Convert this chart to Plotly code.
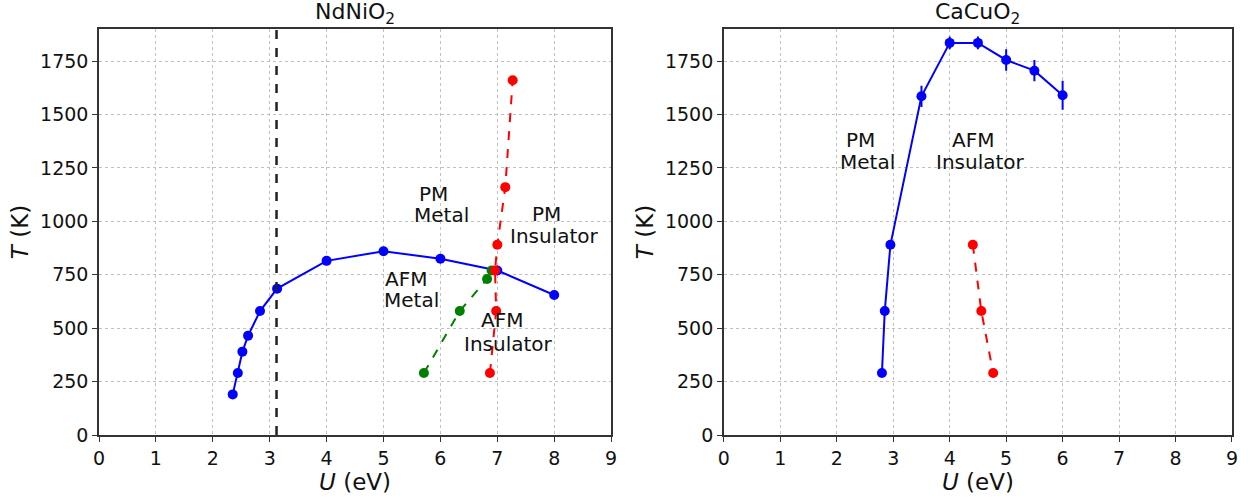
import plotly.graph_objects as go
from plotly.subplots import make_subplots

# ---- NdNiO2 (left panel) ----
nd_blue_U = [2.35, 2.44, 2.52, 2.62, 2.83, 3.13, 4.0, 5.0, 6.0, 7.0, 8.0]
nd_blue_T = [190, 290, 390, 465, 580, 685, 815, 860, 825, 770, 655]
nd_green_U = [5.71, 6.34, 6.82, 6.9]
nd_green_T = [290, 580, 730, 770]
nd_red_U = [6.87, 6.98, 6.96, 7.0, 7.14, 7.27]
nd_red_T = [290, 580, 770, 890, 1160, 1660]
nd_vline_U = 3.12

# ---- CaCuO2 (right panel) ----
ca_blue_U = [2.8, 2.85, 2.95, 3.5, 4.0, 4.5, 5.0, 5.5, 6.0]
ca_blue_T = [290, 580, 890, 1585, 1835, 1835, 1755, 1705, 1590]
ca_blue_err = [0, 0, 0, 50, 30, 30, 50, 50, 68]
ca_red_U = [4.41, 4.56, 4.77]
ca_red_T = [890, 580, 290]

# region labels: (text, U, T)
nd_labels = [("PM", 5.88, 1128), ("Metal", 6.02, 1030),
             ("PM", 7.86, 1035), ("Insulator", 8.0, 930),
             ("AFM", 5.39, 728), ("Metal", 5.5, 632),
             ("AFM", 7.08, 536), ("Insulator", 7.2, 427)]
ca_labels = [("PM", 2.42, 1382), ("Metal", 2.54, 1278),
             ("AFM", 4.42, 1382), ("Insulator", 4.54, 1278)]

titles = ["NdNiO<sub>2</sub>", "CaCuO<sub>2</sub>"]
x_ticks = list(range(0, 10))
y_ticks = [0, 250, 500, 750, 1000, 1250, 1500, 1750]

FONT = "DejaVu Sans"
TXT = "#111111"

fig = make_subplots(rows=1, cols=2, horizontal_spacing=0.0985)

mk = dict(size=10)
fig.add_trace(go.Scatter(x=nd_blue_U, y=nd_blue_T, mode="lines+markers",
                         line=dict(color="#0000ff", width=2), marker=dict(color="#0000ff", **mk)), 1, 1)
fig.add_trace(go.Scatter(x=nd_green_U, y=nd_green_T, mode="lines+markers",
                         line=dict(color="#008000", width=2, dash="dash"), marker=dict(color="#008000", **mk)), 1, 1)
fig.add_trace(go.Scatter(x=nd_red_U, y=nd_red_T, mode="lines+markers",
                         line=dict(color="#ff0000", width=2, dash="dash"), marker=dict(color="#ff0000", **mk)), 1, 1)

fig.add_trace(go.Scatter(x=ca_blue_U, y=ca_blue_T, mode="lines+markers",
                         line=dict(color="#0000ff", width=2), marker=dict(color="#0000ff", **mk),
                         error_y=dict(type="data", array=ca_blue_err, color="#0000ff", thickness=2, width=0)), 1, 2)
fig.add_trace(go.Scatter(x=ca_red_U, y=ca_red_T, mode="lines+markers",
                         line=dict(color="#ff0000", width=2, dash="dash"), marker=dict(color="#ff0000", **mk)), 1, 2)

fig.add_shape(type="line", xref="x", yref="y domain", x0=nd_vline_U, x1=nd_vline_U, y0=0, y1=1,
              line=dict(color="#222222", width=2.5, dash="dash"))

for txt, u, t in nd_labels:
    fig.add_annotation(x=u, y=t, xref="x", yref="y", text=txt, showarrow=False,
                       font=dict(size=20, color=TXT, family=FONT))
for txt, u, t in ca_labels:
    fig.add_annotation(x=u, y=t, xref="x2", yref="y2", text=txt, showarrow=False,
                       font=dict(size=20, color=TXT, family=FONT))

for i, ttl in enumerate(titles):
    xr = "x domain" if i == 0 else "x2 domain"
    fig.add_annotation(x=0.5, y=1.0, xref=xr, yref="paper", yanchor="bottom", yshift=-1,
                       text=ttl, showarrow=False, font=dict(size=22, color=TXT, family=FONT))

axis_common = dict(showline=True, linecolor="#333333", linewidth=1.5, mirror=True,
                   ticks="outside", ticklen=5, tickcolor="#333333",
                   showgrid=True, gridcolor="#c0c0c0", griddash="3px,3px", gridwidth=1,
                   zeroline=False, tickfont=dict(size=19, color=TXT, family=FONT))

for c in (1, 2):
    fig.update_xaxes(range=[0, 9], tickvals=x_ticks, row=1, col=c,
                     title=dict(text="<i>U</i> (eV)", font=dict(size=23, color=TXT, family=FONT), standoff=4),
                     **axis_common)
    fig.update_yaxes(range=[0, 1900], tickvals=y_ticks, row=1, col=c,
                     title=dict(text="<i>T</i> (K)", font=dict(size=23, color=TXT, family=FONT), standoff=5),
                     **axis_common)

fig.update_layout(width=1250, height=501, showlegend=False,
                  plot_bgcolor="white", paper_bgcolor="white",
                  margin=dict(l=99, r=14, t=29, b=62),
                  font=dict(family=FONT))
fig.update_xaxes(domain=[0, 0.452], row=1, col=1)
fig.update_xaxes(domain=[0.5515, 1.0], row=1, col=2)

fig.write_html("out.html")
